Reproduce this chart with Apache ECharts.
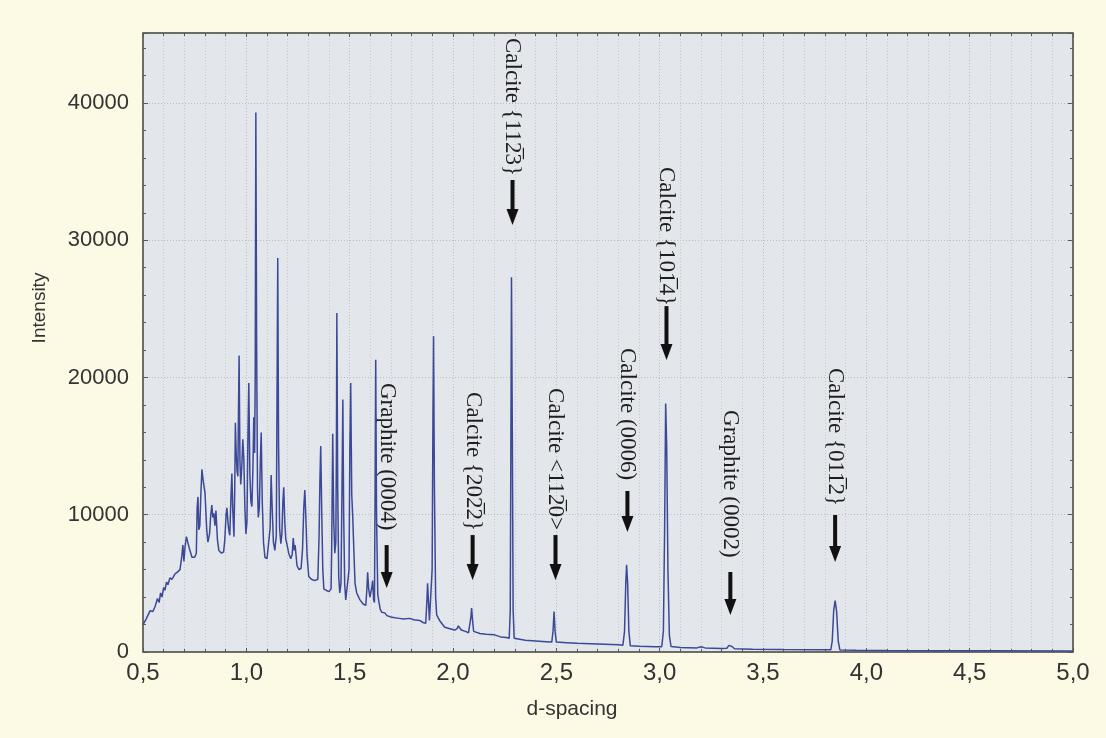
<!DOCTYPE html>
<html>
<head>
<meta charset="utf-8">
<script src="https://cdn.jsdelivr.net/npm/echarts@6/dist/echarts.min.js"></script>
<style>
  html, body { margin: 0; padding: 0; background: #fcf9e4; }
  #chart { width: 1106px; height: 738px; }
</style>
</head>
<body>
<div id="chart"></div>
<script>
// d-spacing / intensity pairs
const dSpacing = [
  0.500, 0.515, 0.534, 0.548, 0.558, 0.570, 0.578, 0.585, 0.592, 0.600,
  0.606, 0.614, 0.621, 0.630, 0.640, 0.655, 0.665, 0.679, 0.688, 0.693,
  0.698, 0.703, 0.710, 0.717, 0.725, 0.737, 0.750, 0.758, 0.762, 0.766,
  0.770, 0.775, 0.780, 0.785, 0.792, 0.800, 0.808, 0.814, 0.822, 0.828,
  0.833, 0.838, 0.843, 0.848, 0.853, 0.860, 0.867, 0.880, 0.890, 0.896,
  0.902, 0.906, 0.912, 0.917, 0.920, 0.926, 0.930, 0.934, 0.940, 0.944,
  0.947, 0.951, 0.955, 0.959, 0.962, 0.965, 0.969, 0.973, 0.978, 0.983,
  0.988, 0.993, 0.998, 1.003, 1.008, 1.012, 1.017, 1.022, 1.027, 1.032,
  1.036, 1.040, 1.043, 1.046, 1.050, 1.054, 1.058, 1.063, 1.068, 1.072,
  1.077, 1.083, 1.090, 1.100, 1.109, 1.115, 1.120, 1.125, 1.131, 1.138,
  1.145, 1.149, 1.152, 1.156, 1.161, 1.167, 1.172, 1.177, 1.181, 1.186,
  1.191, 1.196, 1.205, 1.215, 1.222, 1.227, 1.232, 1.236, 1.245, 1.255,
  1.265, 1.272, 1.278, 1.283, 1.288, 1.294, 1.302, 1.315, 1.330, 1.346,
  1.352, 1.356, 1.360, 1.365, 1.370, 1.375, 1.385, 1.400, 1.410, 1.413,
  1.418, 1.423, 1.428, 1.433, 1.436, 1.438, 1.442, 1.447, 1.452, 1.458,
  1.463, 1.467, 1.471, 1.476, 1.481, 1.490, 1.497, 1.501, 1.505, 1.510,
  1.515, 1.520, 1.526, 1.534, 1.550, 1.565, 1.578, 1.583, 1.587, 1.592,
  1.598, 1.602, 1.607, 1.611, 1.616, 1.620, 1.623, 1.626, 1.630, 1.636,
  1.641, 1.648, 1.655, 1.662, 1.670, 1.680, 1.700, 1.718, 1.740, 1.760,
  1.790, 1.810, 1.839, 1.855, 1.868, 1.874, 1.877, 1.881, 1.886, 1.892,
  1.899, 1.903, 1.906, 1.910, 1.916, 1.921, 1.935, 1.960, 1.985, 2.008,
  2.020, 2.026, 2.032, 2.040, 2.047, 2.060, 2.075, 2.082, 2.087, 2.090,
  2.094, 2.100, 2.105, 2.130, 2.160, 2.201, 2.230, 2.259, 2.272, 2.277,
  2.280, 2.283, 2.287, 2.291, 2.296, 2.303, 2.350, 2.400, 2.450, 2.478,
  2.484, 2.489, 2.494, 2.500, 2.550, 2.600, 2.700, 2.800, 2.822, 2.830,
  2.836, 2.840, 2.845, 2.851, 2.858, 2.900, 2.980, 3.010, 3.018, 3.024,
  3.029, 3.034, 3.040, 3.047, 3.055, 3.100, 3.180, 3.200, 3.220, 3.300,
  3.325, 3.335, 3.342, 3.350, 3.362, 3.450, 3.600, 3.800, 3.828, 3.835,
  3.842, 3.849, 3.856, 3.864, 3.872, 3.950, 4.100, 4.300, 4.600, 5.000
];
const intensity = [
  2000, 2400, 3000, 2950, 3300, 3900, 3600, 4300, 4000, 4700,
  4500, 5100, 4900, 5400, 5300, 5700, 5800, 6000, 7000, 7800,
  6600, 7600, 8400, 8500, 7500, 6900, 6900, 7200, 10500, 11300,
  8900, 9200, 11500, 13300, 12400, 11600, 9000, 8000, 8600, 10000,
  10700, 9800, 10100, 9200, 10300, 8200, 7400, 7200, 7300, 8200,
  10000, 10500, 9300, 8700, 8500, 11500, 13000, 10500, 8400, 12000,
  16700, 14500, 13200, 12800, 17500, 21600, 14000, 12200, 13500, 15500,
  14000, 10500, 8600, 9500, 16000, 19600, 13000, 11000, 10600, 13500,
  17100, 14500, 20000, 39300, 22000, 12000, 9800, 10500, 14000, 16000,
  11000, 8000, 6900, 6800, 6900, 9000, 12900, 10500, 8000, 7400,
  8500, 20000, 28700, 15000, 9000, 7900, 8600, 11000, 12000, 9500,
  8200, 7900, 7200, 6800, 7100, 8300, 7400, 7800, 6300, 6000,
  6100, 7500, 10500, 11800, 9800, 7000, 5500, 5300, 5200, 5300,
  8500, 12500, 15000, 10000, 6000, 4600, 4500, 4400, 4600, 7500,
  15900, 9500, 7200, 8000, 15000, 24700, 12000, 5500, 4300, 5000,
  12000, 18400, 10000, 4900, 3800, 3900, 6000, 15000, 19600, 11500,
  9800, 7500, 5000, 4300, 3800, 3500, 3400, 4500, 5800, 4600,
  4000, 4000, 4700, 5200, 3800, 3600, 12000, 21300, 10000, 4200,
  3700, 3100, 2900, 2800, 2850, 2650, 2550, 2500, 2450, 2400,
  2450, 2350, 2300, 2150, 2100, 3800, 5000, 3800, 2300, 2200,
  6000, 17000, 23000, 12000, 4000, 2700, 2300, 1800, 1700, 1600,
  1700, 1900, 1800, 1600, 1500, 1500, 1400, 1500, 2600, 3200,
  2400, 1500, 1400, 1350, 1300, 1250, 1100, 1050, 1000, 3000,
  15000, 27300, 16000, 3000, 1000, 900, 850, 800, 750, 720,
  1500, 2950, 1500, 720, 680, 640, 580, 520, 500, 1500,
  5000, 6350, 5000, 1500, 450, 420, 380, 380, 1500, 9000,
  18100, 15000, 6000, 1200, 400, 330, 300, 380, 300, 260,
  270, 480, 520, 400, 240, 200, 180, 160, 160, 800,
  3000, 3750, 3000, 800, 150, 130, 110, 100, 90, 80
];

// peak annotations: label, d-spacing, intensity at text top, arrow tail, arrow tip
const peakLabels = [
  'Graphite (0004)', 'Calcite {202\u03052}', 'Calcite {112\u03053}', 'Calcite <112\u03050>',
  'Calcite (0006)', 'Calcite {101\u03054}', 'Graphite (0002)', 'Calcite {011\u03052}'
];
const peakD = [1.679, 2.095, 2.288, 2.496, 2.844, 3.033, 3.342, 3.849];
const labelTop = [19600, 18940, 44740, 19230, 22150, 35340, 17630, 20690];
const arrowTail = [7790, 8520, 34390, 8520, 11730, 25200, 5830, 9980];
const arrowTip = [4660, 5250, 31110, 5250, 8740, 21280, 2700, 6560];

const chart = echarts.init(document.getElementById('chart'));

const axisColor = '#5a5a55';
const gridLine = { show: true, lineStyle: { color: '#b9bcc2', type: [1, 2], width: 1 } };

const option = {
  animation: false,
  backgroundColor: '#fcf9e4',
  grid: {
    left: 143, right: 33, top: 33, bottom: 86,
    show: true, backgroundColor: '#e3e6ea', borderColor: axisColor, borderWidth: 1
  },
  xAxis: [
    {
      type: 'value', min: 0.5, max: 5.0, interval: 0.5,
      axisLine: { show: true, onZero: false, lineStyle: { color: axisColor, width: 1.5 } },
      axisTick: { show: true, inside: true, length: 4, lineStyle: { color: axisColor } },
      minorTick: { show: true, splitNumber: 5, length: 3, lineStyle: { color: axisColor } },
      splitLine: gridLine,
      minorSplitLine: { show: true, lineStyle: { color: '#c6c9ce', type: [1, 2], width: 1 } },
      axisLabel: {
        margin: 9, color: '#333', fontSize: 24,
        fontFamily: 'Liberation Sans Narrow, Liberation Sans, sans-serif',
        formatter: v => v.toFixed(1).replace('.', ',')
      }
    },
    {
      type: 'value', min: 0.5, max: 5.0, interval: 0.5, position: 'top',
      axisLine: { show: true, onZero: false, lineStyle: { color: axisColor, width: 1.5 } },
      axisTick: { show: true, inside: true, length: 4, lineStyle: { color: axisColor } },
      minorTick: { show: true, splitNumber: 5, length: 3, lineStyle: { color: axisColor } },
      splitLine: { show: false },
      axisLabel: { show: false }
    }
  ],
  yAxis: [
    {
      type: 'value', min: 0, max: 45100, interval: 10000,
      axisLine: { show: true, lineStyle: { color: axisColor, width: 1.5 } },
      axisTick: { show: true, inside: true, length: 5, lineStyle: { color: axisColor } },
      minorTick: { show: true, splitNumber: 5, length: 3, lineStyle: { color: axisColor } },
      splitLine: gridLine,
      axisLabel: {
        margin: 14, color: '#333', fontSize: 22,
        fontFamily: 'Liberation Sans, Arial, sans-serif',
        showMaxLabel: false,
        formatter: v => String(v)
      }
    },
    {
      type: 'value', min: 0, max: 45100, interval: 10000, position: 'right',
      axisLine: { show: true, lineStyle: { color: axisColor, width: 1.5 } },
      axisTick: { show: true, inside: true, length: 5, lineStyle: { color: axisColor } },
      minorTick: { show: true, splitNumber: 5, length: 3, lineStyle: { color: axisColor } },
      splitLine: { show: false },
      axisLabel: { show: false }
    }
  ],
  series: [
    {
      type: 'line',
      xAxisIndex: 0,
      yAxisIndex: 0,
      showSymbol: false,
      data: dSpacing.map((d, i) => [d, intensity[i]]),
      lineStyle: { color: '#3b4998', width: 1.5 }
    }
  ]
};

chart.setOption(option);

// vertical peak labels with down arrows, anchored through the axes
const toPx = (x, y) => chart.convertToPixel({ xAxisIndex: 0, yAxisIndex: 0 }, [x, y]);
const graphics = [];
peakLabels.forEach((label, i) => {
  const top = toPx(peakD[i], labelTop[i]);
  const tail = toPx(peakD[i], arrowTail[i]);
  const tip = toPx(peakD[i], arrowTip[i]);
  graphics.push({
    type: 'text', x: top[0], y: top[1], rotation: -Math.PI / 2,
    style: {
      text: label, fill: '#1e1e1e', align: 'left', verticalAlign: 'middle',
      font: '23px "Liberation Serif", "DejaVu Serif", serif'
    }
  });
  graphics.push({
    type: 'line',
    shape: { x1: tail[0], y1: tail[1], x2: tip[0], y2: tip[1] - 14 },
    style: { stroke: '#111', lineWidth: 4 }
  });
  graphics.push({
    type: 'polygon',
    shape: { points: [[tip[0] - 6, tip[1] - 16], [tip[0] + 6, tip[1] - 16], [tip[0], tip[1]]] },
    style: { fill: '#111' }
  });
});

graphics.push({
  type: 'text', x: 40, y: 308, rotation: Math.PI / 2,
  style: {
    text: 'Intensity', fill: '#333', align: 'center', verticalAlign: 'middle',
    font: '19px "Liberation Sans", Arial, sans-serif'
  }
});
graphics.push({
  type: 'text', x: 572, y: 709,
  style: {
    text: 'd-spacing', fill: '#333', align: 'center', verticalAlign: 'middle',
    font: '21px "Liberation Sans Narrow", "Liberation Sans", sans-serif'
  }
});

chart.setOption({ graphic: graphics });
</script>
</body>
</html>
